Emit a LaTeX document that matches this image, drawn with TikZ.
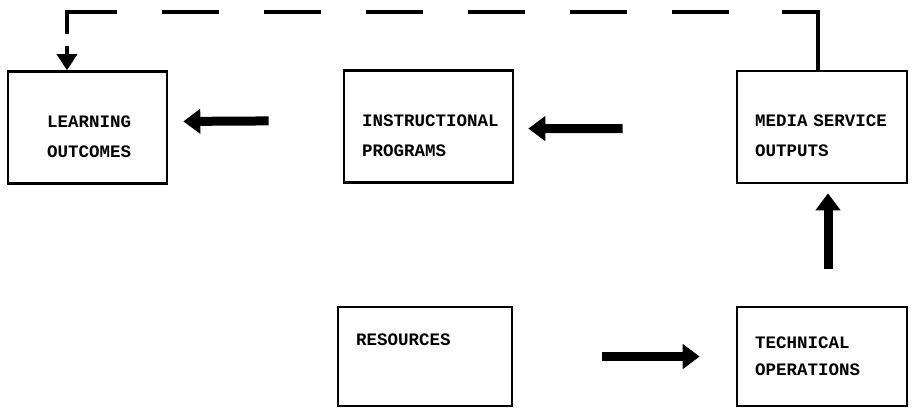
\documentclass[tikz,border=0pt]{standalone}
\usepackage{fontspec}
\newfontfamily\typefont{Liberation Mono}
\usetikzlibrary{arrows.meta}

\tikzset{
  box/.style={draw, line width=2.6pt, align=left, inner xsep=18pt, inner ysep=0pt},
  toprow/.style={box, text height=30pt, minimum height=112pt,
    font=\typefont\bfseries\fontsize{17.5}{30}\selectfont},
  lowrow/.style={box, minimum height=99pt,
    font=\typefont\bfseries\fontsize{17.5}{27}\selectfont},
  bigarrow/.style={line width=9pt, -{Triangle[length=17pt,width=24pt]}},
  feedback/.style={line width=3.5pt, -{Triangle[length=16pt,width=20pt]},
    dash pattern=on 94pt off 53pt on 57pt off 45pt on 57pt off 45pt on 57pt off 45pt
      on 57pt off 45pt on 57pt off 45pt on 57pt off 45pt on 72pt off 12pt on 60pt}
}

\begin{document}
\begin{tikzpicture}[x=1pt,y=-1pt]

  \useasboundingbox (0,0) rectangle (912,412);

  % top row
  \node[toprow, inner xsep=39pt, text width=81pt] (learn) at (87.5,127.5) {LEARNING\\OUTCOMES};
  \node[toprow, text width=133pt] (instr) at (428.5,126.5) {INSTRUCTIONAL\\PROGRAMS};
  \node[toprow, text width=134pt] (media) at (822,127) {MEDIA SERVICE\\OUTPUTS};

  % bottom row
  \node[lowrow, text width=138pt, text depth=33pt] (res) at (425,356.5) {RESOURCES};
  \node[lowrow, text width=134pt] (tech) at (822,356.5) {TECHNICAL\\OPERATIONS};

  \foreach \from/\to/\s/\e/\dy in {instr.west/learn.east/74/15/6,
                                   media.west/instr.east/113/14/-2,
                                   res.east/tech.west/89/36/0}
  {
    \draw[bigarrow, shorten <=\s pt, shorten >=\e pt] ([yshift=\dy pt]\from) -- ([yshift=\dy pt]\to);
  }
  \draw[bigarrow, shorten <=37pt, shorten >=9pt] ([xshift=6pt]tech.north) -- ([xshift=6pt]media.south);

  % feedback loop over the top
  \coordinate (fbtop) at (67,12);
  \draw[feedback] ([xshift=-4pt]media.north) |- (fbtop) -- ([xshift=-20.5pt]learn.north);

\end{tikzpicture}
\end{document}
